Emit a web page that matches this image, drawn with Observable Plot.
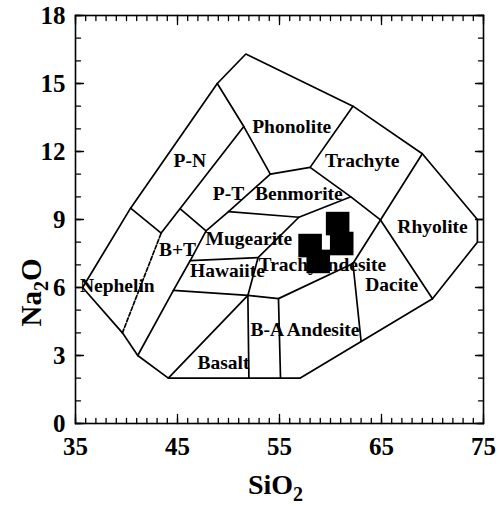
<!DOCTYPE html>
<html><head><meta charset="utf-8">
<script src="https://cdn.jsdelivr.net/npm/d3@7"></script>
<script src="https://cdn.jsdelivr.net/npm/@observablehq/plot@0.6"></script>
<style>body{margin:0;background:#fff}</style>
</head><body><div id="chart"></div>
<script>
// Axis ticks
const xMajor = [35, 45, 55, 65, 75];
const yMajor = [0, 3, 6, 9, 12, 15, 18];
const xMinor = d3.range(35, 76, 1);
const yMinor = d3.range(0, 19, 1);

// Field boundaries [SiO2, Na2O]
const outline = [[35.7,6.0],[40.4,9.5],[48.9,15.0],[51.7,16.3],[62.2,14.0],[69.0,11.9],[74.4,9.0],[74.4,8.0],[70.0,5.5],[57.0,2.0],[44.1,2.0],[41.1,3.0],[39.6,4.0],[35.7,6.0]];
const nephPN = [[40.4,9.5],[43.4,8.4]];
const pnPT = [[43.4,8.4],[51.5,13.1]];
const phonoLeft = [[48.9,15.0],[51.5,13.1],[54.1,11.0]];
const phonoBase = [[54.1,11.0],[58.0,11.3],[62.2,14.0]];
const ptBenm = [[47.8,8.5],[50.0,9.35],[54.1,11.0]];
const ptBT = [[45.3,9.46],[47.8,8.5]];
const btRight = [[41.1,3.0],[44.6,5.87],[46.25,7.19],[47.8,8.5]];
const hawBase = [[44.6,5.87],[51.9,5.65],[54.9,5.51],[62.2,7.06]];
const basaltLeft = [[44.1,2.0],[51.9,5.65]];
const basaltRight = [[51.9,5.65],[52.0,2.0]];
const baRight = [[54.9,5.51],[55.1,2.0]];
const taLeft = [[51.9,5.65],[52.9,7.32],[56.9,9.1]];
const hawTop = [[46.25,7.19],[52.9,7.32]];
const mugTop = [[50.0,9.35],[56.9,9.1],[62.0,10.0]];
const trachyteBase = [[58.0,11.3],[62.0,10.0],[64.9,8.98],[70.0,5.5]];
const rhyoLeft = [[69.0,11.9],[64.9,8.98],[62.2,7.06],[63.0,3.62]];
const nephDash = [[39.6,4.0],[43.4,8.4]];

// Field names
const fieldNames = ["P-N","Phonolite","Trachyte","P-T","Benmorite","Rhyolite","Mugearite","B+T","Hawaiite","Nephelin","Trachyandesite","Dacite","B-A Andesite","Basalt"];
const fieldX = [46.2,56.2,63.1,50.0,56.9,70.0,52.0,45.0,49.9,39.1,59.2,66.0,57.5,49.5];
const fieldY = [11.6,13.1,11.6,10.13,10.15,8.7,8.16,7.67,6.75,6.09,7.0,6.13,4.15,2.69];

// Samples
const sampleSiO2 = [60.7, 61.1, 58.0, 58.8];
const sampleNa2O = [8.82, 7.94, 7.85, 7.15];

const solid = {outline, nephPN, pnPT, phonoLeft, phonoBase, ptBenm, ptBT, btRight, hawBase, basaltLeft, basaltRight, baRight, taLeft, hawTop, mugTop, trachyteBase, rhyoLeft};
const solidRows = Object.entries(solid).flatMap(([id, pts]) => pts.map(([x, y]) => ({id, x, y})));
const dashRows = nephDash.map(([x, y]) => ({id: "dash", x, y}));
const samples = sampleSiO2.map((x, i) => ({x, y: sampleNa2O[i]}));

const FONT = "Liberation Serif, Times New Roman, serif";
const tickShape = {draw(ctx, l) { ctx.moveTo(0, 0); ctx.lineTo(0, -l); }};
function ticks(values, dim, at, rot, len) {
  return Plot.vector(values, {
    x: dim === "x" ? d => d : () => at,
    y: dim === "y" ? d => d : () => at,
    length: len, rotate: rot, anchor: "start", shape: tickShape, stroke: "black", strokeWidth: 1.3
  });
}

const plot = Plot.plot({
  width: 500, height: 506,
  marginLeft: 75, marginRight: 17, marginTop: 15, marginBottom: 83,
  x: {domain: [35, 75]},
  y: {domain: [0, 18]},
  style: {fontFamily: FONT, fontWeight: "bold", background: "white"},
  marks: [
    Plot.line(solidRows, {x: "x", y: "y", z: "id", stroke: "black", strokeWidth: 1.7}),
    Plot.line(dashRows, {x: "x", y: "y", z: "id", stroke: "black", strokeWidth: 1.7, strokeDasharray: "4,2"}),
    Plot.text(fieldNames, {x: (d, i) => fieldX[i], y: (d, i) => fieldY[i], text: d => d, fontSize: 19.5, fontWeight: "bold", fontFamily: FONT, fill: "black"}),
    Plot.dot(samples, {x: "x", y: "y", symbol: "square", r: 13.3, fill: "black", stroke: null}),
    ticks(xMinor, "x", 0, 0, 5), ticks(xMajor, "x", 0, 0, 9),
    ticks(xMinor, "x", 18, 180, 5), ticks(xMajor, "x", 18, 180, 9),
    ticks(yMinor, "y", 35, 90, 5), ticks(yMajor, "y", 35, 90, 8),
    ticks(yMinor, "y", 75, -90, 5), ticks(yMajor, "y", 75, -90, 8),
    Plot.frame({stroke: "black", strokeWidth: 1.6}),
    Plot.axisX(xMajor, {anchor: "bottom", tickSize: 0, tickPadding: 14, label: null, fontSize: 25, fontWeight: "bold", fontFamily: FONT}),
    Plot.axisY(yMajor, {anchor: "left", tickSize: 0, tickPadding: 10, label: null, fontSize: 25, fontWeight: "bold", fontFamily: FONT}),
    Plot.text(["SiO2"], {frameAnchor: "bottom", dy: 62, dx: -4, text: d => d, textAnchor: "middle", fontSize: 28, fontWeight: "bold", fontFamily: FONT, lineAnchor: "middle"}),
    Plot.text(["Na2O"], {frameAnchor: "left", dx: -44, dy: 73, rotate: -90, text: d => d, textAnchor: "middle", fontSize: 29, fontWeight: "bold", fontFamily: FONT, lineAnchor: "middle"})
  ]
});

// subscript digits in axis titles
plot.querySelectorAll("text").forEach(t => {
  const s = t.textContent;
  if (s === "SiO2" || s === "Na2O") {
    const parts = s === "SiO2" ? ["SiO", "2", ""] : ["Na", "2", "O"];
    t.textContent = "";
    const ns = "http://www.w3.org/2000/svg";
    const a = document.createElementNS(ns, "tspan"); a.textContent = parts[0]; t.appendChild(a);
    const b = document.createElementNS(ns, "tspan"); b.textContent = parts[1];
    b.setAttribute("font-size", "20"); b.setAttribute("dy", "7"); t.appendChild(b);
    if (parts[2]) { const c = document.createElementNS(ns, "tspan"); c.textContent = parts[2]; c.setAttribute("dy", "-7"); t.appendChild(c); }
  }
});
document.getElementById("chart").appendChild(plot);
</script>
</body></html>
